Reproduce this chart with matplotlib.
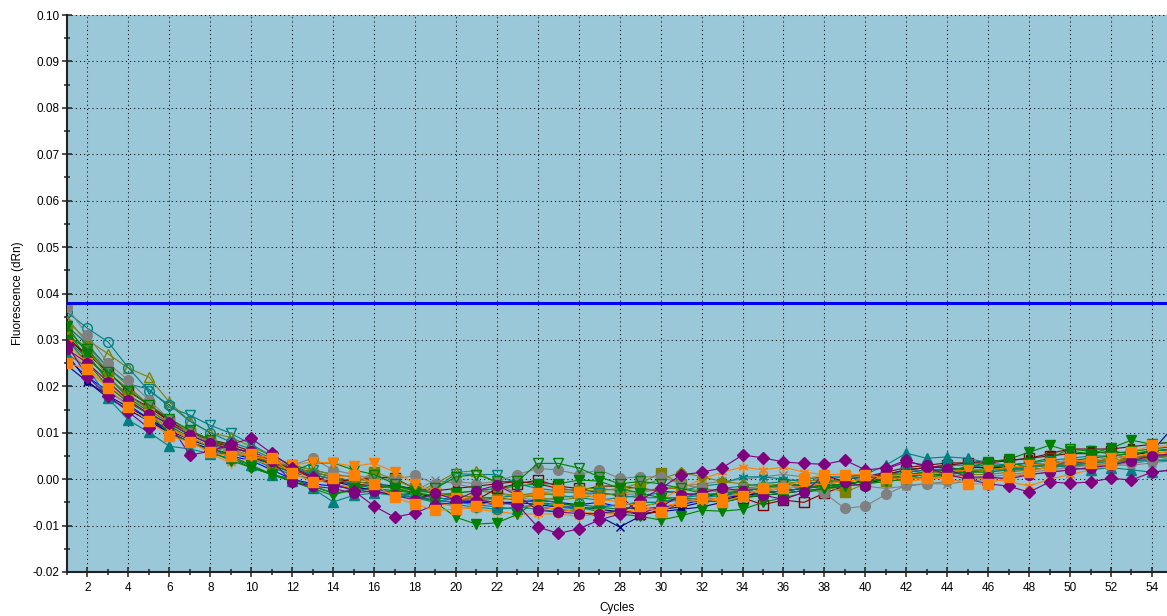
import numpy as np
import matplotlib
matplotlib.use("Agg")
import matplotlib.pyplot as plt
from matplotlib.ticker import MultipleLocator, FormatStrFormatter

# ---- data (values in units of 0.001 dRn) ----
cycles = list(range(1, 56))
threshold = 0.038

orange_sq = [25, 23.7, 19.6, 15.5, 12.5, 9.3, 8.0, 5.8, 5.0, 5.4,
             4.5, 1.3, -0.6, 0.2, 1.0, -1.0, -3.9, -5.4, -6.7, -6.5,
             -5.8, -4.7, -3.9, -3.0, -2.4, -2.8, -4.3, -4.9, -5.8, -7.1,
             -4.7, -4.1, -4.9, -3.7, -1.9, -1.9, 0.0, 1.0, 1.0, 1.0,
             0.2, 0.2, 0.2, 0.2, -1.0, -1.0, 0.4, 1.5, 2.8, 4.3,
             3.4, 3.2, 5.8, 7.3, 7.0]
purple_dia = [29, 22, 18, 14.5, 11, 12.0, 5.2, 6.0, 7.5, 8.8,
              5.6, 2.5, 0.5, -1.0, -2.5, -5.8, -8.2, -7.3, -5.5, -5.0,
              -4.5, -5.0, -5.5, -10.3, -11.7, -10.7, -8.8, -7.5, -4.5, -2.0,
              0.9, 1.5, 2.4, 5.2, 4.6, 3.7, 3.4, 3.2, 4.1, 2.0,
              2.4, 4.1, 2.5, 1.0, 0.0, -1.0, -1.5, -2.8, -0.6, -0.9,
              -0.6, 0.2, -0.2, 1.5, 2.0]
purple_circ = [28, 25, 21, 17, 14, 12, 9.5, 7.7, 6.5, 6.0,
               4.0, -0.6, -1.5, -2.0, -3.0, -2.5, -3.5, -4.5, -3.0, -4.5,
               -2.5, -1.3, -3.5, -6.7, -7.1, -7.4, -7.4, -6.7, -7.4, -6.0,
               -3.4, -3.0, -1.9, -2.5, -3.4, -4.4, -2.8, 0.9, -0.6, -1.5,
               2.2, 3.7, 3.0, 2.2, 0.4, 0.5, 0.0, 1.0, 1.5, 2.0,
               2.5, 3.0, 4.0, 5.0, 5.5]
green_vf = [33, 27, 21, 17, 14, 11, 9, 7, 5, 3,
            1, -0.5, -2, -3.5, -2, -1, -2, -3, -5, -8.2,
            -9.7, -9.4, -7.6, -4.5, -5.0, -6.0, -7.0, -7.5, -8.0, -8.8,
            -7.9, -6.7, -6.9, -6.5, -5, -4, -3, -2, -1, -0.5,
            0, 1, 1.5, 2, 2.5, 3.7, 4.3, 5.8, 7.3, 6.0,
            5.5, 6.7, 8.4, 7.5, 8.0]
green_vo = [31, 28, 23, 19, 16, 13, 10.5, 8.5, 7, 5.5,
            3, 1.5, 3.5, 3.5, 2, 1, -1, -2.5, -2, 0.5,
            1.0, -0.5, -0.5, 3.4, 3.4, 2.4, 0.5, -1, -0.5, -1,
            -2, -3, -3.5, -2.5, -2, -1, -1.5, -1.5, -1, -0.5,
            0, 0.5, 1, 1.5, 1.5, 2.5, 3, 3.5, 4.5, 6.5,
            6.0, 5.5, 6.0, 6.5, 7.0]
green_v2 = [30, 25, 20, 16.5, 14, 10, 8, 6, 4, 2.5,
            1, 0, -1.5, -3.0, -2.5, -2, -2.5, -3, -3.5, -3,
            -2.5, -2, -1.5, -1.0, -1.0, -0.2, -0.4, -2, -3, -4,
            -4.5, -5, -4.5, -4, -3.5, -3, -2.5, -2, -1.5, -1,
            -0.5, 0, 0.5, 1, 1.5, 2, 2.5, 3, 3.5, 4,
            4.5, 5, 5.5, 6, 6.5]
gray_circ = [37, 31, 25, 21.3, 17, 13, 10, 8, 6, 5,
             4, 3, 4.5, 2, 1, 0, 0, 0.8, -1, -0.5,
             -1, -0.5, 1, 2.3, 2, 1, 2, 0.2, 0.5, 0.5,
             -1, -2, -3, -2, -2, -1, -2, -3, -6.3, -5.8,
             -3.3, -1.3, -1, -0.5, 0, 0.5, 1, 1.5, 2, 2.5,
             3, 3, 3.5, 4, 4.5]
teal_co = [36, 32.5, 29.6, 24, 19, 16, 12.5, 10, 8, 6.5,
           4.5, 2.5, 1, 0, -1, -2, -3, -4, -5, -5.5,
           -6, -6.5, -6, -6.5, -7, -6.5, -6, -5.5, -5, -5,
           -4.5, -4, -3.5, -3, -2.5, -2, -1.5, -1, -0.5, 0,
           0.5, 1, 1, 1.5, 1.5, 2, 2, 2.5, 3, 3,
           3.5, 3.5, 4, 4, 4.5]
olive_uo = [34, 30, 27, 23.9, 22, 16.6, 12.5, 10, 9, 7,
            5, 3, 2, 1, 0.5, -1, -2, -3, -1, 1.5,
            1.8, -1, -3, -4, -4.5, -4, -3.5, -3, -2.5, -2,
            -2, -2.5, -2.5, -2, -1.5, -1, -0.5, 0, -0.5, 0,
            0.5, 1, 1.5, 1.5, 2, 2, 2.5, 3, 3, 3.5,
            4, 4, 4.5, 5, 5.5]
teal_vo = [33, 29, 24, 20.5, 19.4, 15.5, 13.8, 11.6, 9.9, 7.5,
           5, 3, 2, 1, 0.5, -0.5, -2, -3, -2, 1.2,
           1.0, 1.0, -1, -2, -2.5, -3, -3, -3.5, -4, -4,
           -4, -3.5, -3, -2.5, -2, -1.5, -1, -0.5, 0, 0.5,
           1, 1.5, 2, 2, 2.5, 3, 3, 3.5, 4, 4.5,
           5, 5, 5.5, 6, 6.5]
teal_uf = [27, 24, 17.5, 12.7, 10.1, 7.1, 6.5, 5.5, 4.5, 3,
           1, -0.5, -2, -4.9, -3.5, -3, -3.5, -4, -4.5, -5,
           -5.5, -6, -6.5, -5, -6, -6.5, -6, -5.5, -5, -5,
           -4, -3, -2, -1.5, -1, -0.5, 0, 0.5, 0.5, 1,
           3, 5.6, 4.5, 4.8, 4.5, 3.5, 3, 3.5, 3, 2.5,
           2, 2.5, 2, 1.5, 2]
olive_sq = [32, 28, 22, 18, 15, 12, 10, 8, 6.5, 5,
            3.5, 2, 1, 0, -1, 1.5, 0, -2, -3, -3.5,
            -4, -4.5, -4, -3.5, -3, -2.5, -2.5, -2, -0.9, 1.3,
            -1, -2, -2.5, -3, -2.5, -2, -1.5, -1.5, -2.8, -1,
            -0.5, 0, 0.5, 0.5, 1, 1, 1.5, 2, 2.5, 3,
            3.5, 4, 4.5, 5.5, 6]
red_so = [30, 27, 23, 19, 16, 12.5, 10, 8, 7, 5.5,
          3.5, 2, 1, 0, -0.5, 0.5, 0.2, -2, -3, -4,
          -4.5, -2, -1, -0.2, -1.5, -2, -3, -3.5, -7.5, -7,
          -5, -4, -3, -4, -5.5, -4.5, -5, -3, -1.5, 0,
          1, 2, 2.5, 3, 3.5, 3.5, 4, 4.5, 5, 5.5,
          5.5, 6, 5.5, 6, 6.5]
navy_x = [27, 21, 18, 15.5, 13, 10.5, 8.5, 7, 6, 5,
          3, 1.5, 0.5, -0.5, -1.5, -2.5, -3.5, -3.0, -4, -4.5,
          -5, -5, -5.5, -6, -6.5, -7, -8, -10.3, -8, -6.5,
          -6, -5, -4.5, -3.5, -3, -2.5, -2, -1.5, -1, -0.5,
          0, 0.5, 1, 1.5, 2, 2, 2.5, 3, 3.5, 4,
          4, 4.5, 5, 6, 11]
blue_ln = [26, 22, 19, 16, 13, 10, 8, 6, 5, 4,
           2, 0, -1, -1.5, -2, -2, -3, -4, -4.5, -5,
           -5, -5.5, -5, -4.5, -5, -5.5, -5, -6, -6.5, -6,
           -5.5, -4.5, -4, -3.5, -3, -2.5, -2, -1, 0, 0.5,
           1, 2, 2.5, 2.5, 2, 2, 2.5, 3, 3.5, 3.5,
           4, 4, 4.5, 5, 5.5]
orange_ast = [28, 24, 20, 17, 14, 11, 8.5, 5.5, 3.5, 4.5,
              3, 2, 0, -1, -2, -2.5, -3, -4, -5, -6,
              -6.5, -7, -7.5, -7.5, -7.5, -8, -7.5, -7, -6.5, -4.5,
              -2, 0, 1.5, 2.6, 2.0, 2.6, 1.5, 1.0, 1, 0.5,
              0, -0.5, 0, 0.5, 0.5, 0, -0.5, -1.5, 0, 1,
              2, 3, 4, 5, 5.5]
teal_ast = [30, 26, 22, 18, 15, 12, 9.5, 7.5, 6, 4.5,
            2.5, 1, 0, -1, -2, -3, -3, -3.5, -4, -4.5,
            -4.5, -4, -3.5, -3, -3.5, -4, -4.5, -4, -3.5, -3,
            -2.5, -1.5, -1, 0.5, 0.5, 0, -0.5, -1, -0.5, 0,
            1, 2, 2.5, 3, 3, 3, 2.5, 2, 2.5, 3,
            3, 3.5, 3.5, 4, 4]
gray_x = [35, 29, 23, 19.5, 16, 13, 10.5, 8.5, 7, 5.5,
          3.5, 2, 1, 0, -1, -1.5, -2, -2.5, -0.2, -1,
          -2, -3, -4, -4.5, -4, -3.5, -3, -3.5, -3, -2,
          -1.5, -1, -0.5, 0, 0.5, 1, 0.5, 0, -1, -1.5,
          -2, -1.5, -1, -1, -0.5, 0, 0.5, 1, 1.5, 2,
          2.5, 3, 3, 3.5, 4]
red_sf = [31, 26, 22, 18, 15.5, 12.5, 10, 8.5, 7.5, 6,
          4, 2, 0.5, -0.5, -1, -1.5, -1.5, -2, -2.5, -2,
          -1.5, -1, -0.5, -1, -2, -2.5, -1.5, -1.5, -2, -2.5,
          -3, -3.5, -3, -2.5, -2, -1.5, -1, -0.5, 0, 0.5,
          1.5, 2.5, 3, 3.5, 3.5, 4, 4, 4.5, 5.5, 6.5,
          6.5, 6.5, 7, 7.5, 8]
green_cf = [32, 26, 22, 17.5, 14.5, 11.5, 9, 7, 4.5, 2.5,
            1, 0, -1.5, -3, -2.5, -2, -1.5, -2.5, -3, -3.5,
            -4, -4, -4.5, -5, -5.5, -5.5, -6, -6.5, -6, -5,
            -4, -4.5, -5, -4, -3, -2.5, -2, -1.5, -1, -0.5,
            0, 0.5, 1, 1, 1.5, 1.5, 2, 2, 2.5, 3,
            3.5, 4, 4, 4.5, 5]
navy_cf = [24.5, 21, 17.5, 15, 12.5, 10, 8, 6.5, 5.5, 4.5,
           3.5, 2.5, 1.5, 0.5, -0.5, -1, -1.5, -2, -3, -4,
           -4.5, -5, -5, -5.5, -6, -6, -6.5, -7, -7.5, -7,
           -6.5, -6, -5, -4, -3.5, -3, -2.5, -2, -1.5, -1,
           0, 1.5, 2, 2, 2.5, 2.5, 2.5, 3, 3, 3.5,
           3.5, 4, 4.5, 5, 5]
orange_vf = [29, 25, 21, 17, 14, 11, 9, 7, 6, 5,
             4, 3, 3.7, 3.5, 2.8, 3.4, 1.6, -1, -3, -4,
             -4.5, -5, -5.5, -6, -6.5, -7, -7.5, -7.5, -7, -6,
             -5, -4.5, -4, -3, -2.5, -2, -1.5, -1, -0.5, 0,
             0.5, 1, 1, 1.5, 2, 2, 2.5, 3, 3.5, 4,
             4, 4.5, 5, 5.5, 6]
olive_dia = [33, 29, 24, 20, 16, 13, 10.5, 8.5, 7, 5.5,
             4, 2.5, 1.5, 0.5, -0.5, -1, -2, -3, -3.5, -3,
             -2.5, -3, -3.5, -3, -2.5, -2, -2, -2.5, -1.5, 0,
             1.5, 0.5, -0.5, -1, -1.5, -1, -0.5, 0, 0.5, 0.5,
             1, 1, 1.5, 1.5, 2, 2, 2.5, 2.5, 3, 3,
             3.5, 4, 4, 4.5, 5]

series = [
    # (values, color, marker, filled, markersize)
    (blue_ln, '#0000FF', '.', True, 3),
    (navy_cf, '#000080', 'o', True, 4),
    (navy_x, '#000080', 'x', True, 6),
    (gray_x, '#808080', 'x', True, 6),
    (red_sf, '#800000', 's', True, 4),
    (green_cf, '#008000', 'o', True, 5),
    (teal_ast, '#008080', (6, 2, 0), True, 7),
    (orange_ast, '#FF8000', (6, 2, 0), True, 7),
    (olive_dia, '#808000', 'D', True, 5),
    (red_so, '#800000', 's', False, 7),
    (olive_sq, '#808000', 's', True, 7),
    (teal_uf, '#008080', '^', True, 7),
    (teal_vo, '#008080', 'v', False, 7),
    (olive_uo, '#808000', '^', False, 7),
    (teal_co, '#008080', 'o', False, 7),
    (gray_circ, '#808080', 'o', True, 7),
    (green_v2, '#008000', 'v', True, 7),
    (green_vo, '#008000', 'v', False, 7),
    (green_vf, '#008000', 'v', True, 7),
    (orange_vf, '#FF8000', 'v', True, 7),
    (purple_circ, '#800080', 'o', True, 7),
    (purple_dia, '#800080', 'D', True, 6),
    (orange_sq, '#FF8000', 's', True, 7),
]

plt.rcParams['font.family'] = ['Liberation Sans', 'DejaVu Sans']

fig = plt.figure(figsize=(11.67, 6.16), dpi=100)
ax = fig.add_axes([67 / 1167, 1 - 572 / 616, 1 - 67 / 1167, (572 - 15) / 616])
ax.set_facecolor('#9BC8D8')

x = np.array(cycles)
for vals, col, mk, filled, ms in series:
    y = np.array(vals) / 1000.0
    ax.plot(x, y, color=col, lw=0.8, marker=mk, ms=ms,
            mfc=col if filled else 'none', mec=col, mew=1.0, zorder=3)

ax.axhline(threshold, color='#0000F0', lw=2.2, zorder=4)

ax.set_xlim(1, 1 + (1167 - 67) / 20.47)
ax.set_ylim(-0.02, 0.10)
ax.xaxis.set_major_locator(MultipleLocator(2))
ax.xaxis.set_minor_locator(MultipleLocator(1))
ax.yaxis.set_major_locator(MultipleLocator(0.01))
ax.yaxis.set_minor_locator(MultipleLocator(0.005))
ax.yaxis.set_major_formatter(FormatStrFormatter('%.2f'))

ax.grid(True, which='major', color='black', linestyle=(0, (1, 3)), lw=0.75, zorder=1)
ax.set_axisbelow(True)

for s in ['top', 'right']:
    ax.spines[s].set_visible(False)
for s in ['left', 'bottom']:
    ax.spines[s].set_color('#222222')
    ax.spines[s].set_linewidth(1.5)

ax.tick_params(which='major', direction='inout', length=7, width=1.1,
               labelsize=8.5, color='#222222', pad=2)
ax.tick_params(axis='x', which='major', pad=4)
ax.tick_params(which='minor', direction='inout', length=5, width=1.1, color='#222222')

ax.set_xlabel('Cycles', fontsize=8.5, labelpad=5.5)
ax.set_ylabel('Fluorescence (dRn)', fontsize=8.5, labelpad=6)

fig.savefig('out.png', dpi=100)
